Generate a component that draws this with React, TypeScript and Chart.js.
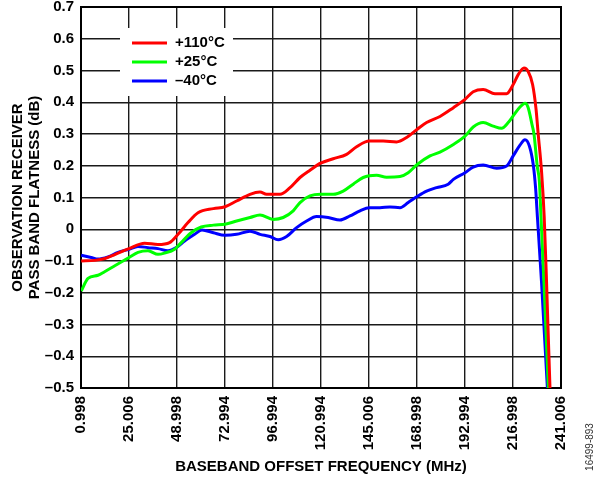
import React, { useEffect, useRef } from 'react';
import { Chart, registerables } from 'chart.js';

Chart.register(...registerables);

// ---- axis ticks ----
const xTickValues = [0.998, 25.006, 48.998, 72.994, 96.994, 120.994, 145.006, 168.998, 192.994, 216.998, 241.006];
const xTickLabels = ['0.998', '25.006', '48.998', '72.994', '96.994', '120.994', '145.006', '168.998', '192.994', '216.998', '241.006'];
const yTickValues = [-0.5, -0.4, -0.3, -0.2, -0.1, 0, 0.1, 0.2, 0.3, 0.4, 0.5, 0.6, 0.7];
const yTickLabels = ['–0.5', '–0.4', '–0.3', '–0.2', '–0.1', '0', '0.1', '0.2', '0.3', '0.4', '0.5', '0.6', '0.7'];

// ---- series ----
const seriesLabels = ['+110°C', '+25°C', '–40°C'];
const seriesColors = ['#ff0000', '#00ff00', '#0000ff'];

// +110°C
const hotFreq = [1.1, 8.0, 13.0, 17.9, 25.0, 32.8, 39.5, 45.3, 49.5, 54.5, 59.5, 67.2, 73.0, 78.8, 85.5, 90.5, 93.8, 100.5, 105.5, 110.5, 115.5, 120.8, 127.1, 133.8, 138.8, 145.1, 152.1, 158.8, 163.8, 169.1, 173.8, 180.5, 187.2, 193.0, 197.1, 202.1, 208.0, 213.8, 217.1, 219.6, 222.5, 224.6, 226.8, 228.5, 229.6, 231.3, 232.6, 233.8, 235.5, 236.0];
const hotDb = [-0.100, -0.098, -0.092, -0.080, -0.061, -0.044, -0.048, -0.042, -0.016, 0.021, 0.052, 0.065, 0.071, 0.089, 0.110, 0.117, 0.110, 0.110, 0.131, 0.163, 0.186, 0.208, 0.222, 0.236, 0.260, 0.278, 0.278, 0.275, 0.289, 0.315, 0.336, 0.355, 0.383, 0.409, 0.433, 0.440, 0.427, 0.427, 0.456, 0.487, 0.508, 0.497, 0.456, 0.380, 0.300, 0.180, 0.040, -0.170, -0.500, -0.560];

// +25°C
const roomFreq = [1.1, 4.5, 9.5, 12.8, 17.9, 25.0, 29.5, 34.5, 39.5, 42.8, 47.8, 51.1, 56.1, 61.1, 67.2, 73.0, 78.8, 85.5, 90.5, 97.1, 102.1, 107.1, 110.5, 115.5, 120.8, 127.1, 132.1, 137.1, 142.1, 148.8, 153.8, 160.5, 164.6, 169.1, 175.5, 180.5, 187.2, 193.0, 197.1, 202.1, 207.1, 211.3, 214.6, 217.1, 220.5, 223.0, 224.6, 226.5, 227.5, 229.1, 230.2, 231.0, 232.5, 234.7, 235.2];
const roomDb = [-0.195, -0.155, -0.145, -0.134, -0.115, -0.089, -0.073, -0.068, -0.079, -0.075, -0.063, -0.042, -0.011, 0.007, 0.013, 0.016, 0.026, 0.037, 0.045, 0.031, 0.037, 0.058, 0.084, 0.105, 0.110, 0.110, 0.120, 0.142, 0.163, 0.170, 0.164, 0.166, 0.178, 0.204, 0.231, 0.243, 0.267, 0.293, 0.322, 0.336, 0.325, 0.318, 0.336, 0.357, 0.385, 0.397, 0.383, 0.330, 0.300, 0.200, 0.150, 0.040, -0.170, -0.500, -0.560];

// -40°C
const coldFreq = [1.1, 6.1, 9.5, 14.5, 19.5, 25.0, 29.5, 34.5, 39.5, 44.5, 48.6, 52.8, 57.8, 61.5, 67.2, 73.0, 78.8, 85.5, 90.5, 95.5, 99.6, 103.8, 108.8, 113.8, 118.8, 124.6, 130.5, 135.5, 140.5, 145.1, 150.5, 155.5, 160.5, 164.6, 169.1, 173.8, 178.8, 184.6, 187.2, 193.0, 197.1, 202.1, 208.8, 213.8, 217.1, 220.5, 223.0, 225.2, 227.2, 228.3, 229.2, 231.3, 234.2, 234.7];
const coldDb = [-0.082, -0.089, -0.094, -0.087, -0.073, -0.063, -0.054, -0.058, -0.061, -0.068, -0.058, -0.037, -0.016, -0.002, -0.011, -0.019, -0.016, -0.006, -0.016, -0.023, -0.033, -0.023, 0.005, 0.026, 0.040, 0.037, 0.029, 0.042, 0.058, 0.068, 0.068, 0.070, 0.068, 0.084, 0.103, 0.120, 0.131, 0.142, 0.157, 0.178, 0.196, 0.202, 0.192, 0.199, 0.231, 0.265, 0.282, 0.262, 0.200, 0.130, 0.040, -0.170, -0.500, -0.560];

const seriesFreq = [hotFreq, roomFreq, coldFreq];
const seriesDb = [hotDb, roomDb, coldDb];

const FONT = '"Liberation Sans", Arial, Helvetica, sans-serif';

const framePlugin = {
  id: 'frameBox',
  beforeDatasetsDraw(chart: any) {
    const { ctx, chartArea: a } = chart;
    ctx.save();
    ctx.strokeStyle = '#000';
    ctx.lineWidth = 2;
    ctx.strokeRect(a.left, a.top, a.right - a.left, a.bottom - a.top);
    ctx.restore();
  },
};

const insideLegendPlugin = {
  id: 'insideLegend',
  afterDatasetsDraw(chart: any) {
    const { ctx, chartArea: a } = chart;
    const bx = a.left + 39;
    const by = a.top + 21;
    ctx.save();
    ctx.fillStyle = '#ffffff';
    ctx.fillRect(bx, by, 113, 68);
    ctx.font = `bold 15px ${FONT}`;
    ctx.textBaseline = 'middle';
    ctx.textAlign = 'left';
    chart.data.datasets.forEach((ds: any, i: number) => {
      const y = by + 15 + i * 19;
      ctx.strokeStyle = ds.borderColor;
      ctx.lineWidth = 3;
      ctx.beginPath();
      ctx.moveTo(bx + 12, y);
      ctx.lineTo(bx + 47, y);
      ctx.stroke();
      ctx.fillStyle = '#000';
      ctx.fillText(ds.label, bx + 55, y);
    });
    ctx.restore();
  },
};

const figureIdPlugin = {
  id: 'figureId',
  afterDraw(chart: any) {
    const { ctx } = chart;
    ctx.save();
    ctx.translate(590, 447);
    ctx.rotate(-Math.PI / 2);
    ctx.font = `10px ${FONT}`;
    ctx.fillStyle = '#333';
    ctx.textAlign = 'center';
    ctx.textBaseline = 'middle';
    ctx.fillText('16499-893', 0, 0);
    ctx.restore();
  },
};

export default function App() {
  const canvasRef = useRef<HTMLCanvasElement | null>(null);

  useEffect(() => {
    const canvas = canvasRef.current;
    if (!canvas) return;
    const datasets = seriesLabels.map((label, s) => ({
      label,
      data: seriesFreq[s].map((f, i) => ({ x: f, y: seriesDb[s][i] })),
      borderColor: seriesColors[s],
      backgroundColor: seriesColors[s],
      borderWidth: 3,
      pointRadius: 0,
      cubicInterpolationMode: 'monotone' as const,
      fill: false,
    }));

    const chart = new Chart(canvas, {
      type: 'line',
      data: { datasets },
      plugins: [framePlugin, insideLegendPlugin, figureIdPlugin],
      options: {
        animation: false,
        responsive: false,
        maintainAspectRatio: false,
        devicePixelRatio: 1,
        layout: { padding: { left: 0, top: 7, right: 41, bottom: 0 } },
        plugins: {
          legend: { display: false },
          tooltip: { enabled: false },
          title: { display: false },
        },
        scales: {
          x: {
            type: 'linear',
            min: 0.998,
            max: 241.006,
            afterBuildTicks: (axis: any) => {
              axis.ticks = xTickValues.map((value) => ({ value }));
            },
            afterFit: (axis: any) => {
              axis.height = 94;
              axis.paddingLeft = 0;
              axis.paddingRight = 0;
            },
            border: { display: false },
            grid: { color: '#1a1a1a', lineWidth: 1.4, drawTicks: false },
            ticks: {
              autoSkip: false,
              minRotation: 90,
              maxRotation: 90,
              padding: 8,
              color: '#000',
              font: { family: FONT, size: 15, weight: 'bold' },
              callback: (_v: any, index: number) => xTickLabels[index],
            },
            title: {
              display: true,
              text: 'BASEBAND OFFSET FREQUENCY (MHz)',
              color: '#000',
              font: { family: FONT, size: 15, weight: 'bold', lineHeight: 1.2 },
              padding: { top: 0, bottom: 6 },
            },
          },
          y: {
            type: 'linear',
            min: -0.5,
            max: 0.7,
            afterBuildTicks: (axis: any) => {
              axis.ticks = yTickValues.map((value) => ({ value }));
            },
            afterFit: (axis: any) => {
              axis.width = 81;
              axis.paddingTop = 0;
              axis.paddingBottom = 0;
            },
            border: { display: false },
            grid: { color: '#1a1a1a', lineWidth: 1.4, drawTicks: false },
            ticks: {
              padding: 7,
              color: '#000',
              font: { family: FONT, size: 15, weight: 'bold' },
              callback: (_v: any, index: number) => yTickLabels[index],
            },
            title: {
              display: true,
              text: ['OBSERVATION RECEIVER', 'PASS BAND FLATNESS (dB)'],
              color: '#000',
              font: { family: FONT, size: 15, weight: 'bold', lineHeight: 1.13 },
              padding: { top: 9, bottom: 0 },
            },
          },
        },
      },
    });
    return () => chart.destroy();
  }, []);

  return (
    <div style={{ position: 'absolute', left: 0, top: 0, width: 602, height: 482, background: '#fff' }}>
      <canvas ref={canvasRef} width={602} height={482} style={{ display: 'block' }} />
    </div>
  );
}
